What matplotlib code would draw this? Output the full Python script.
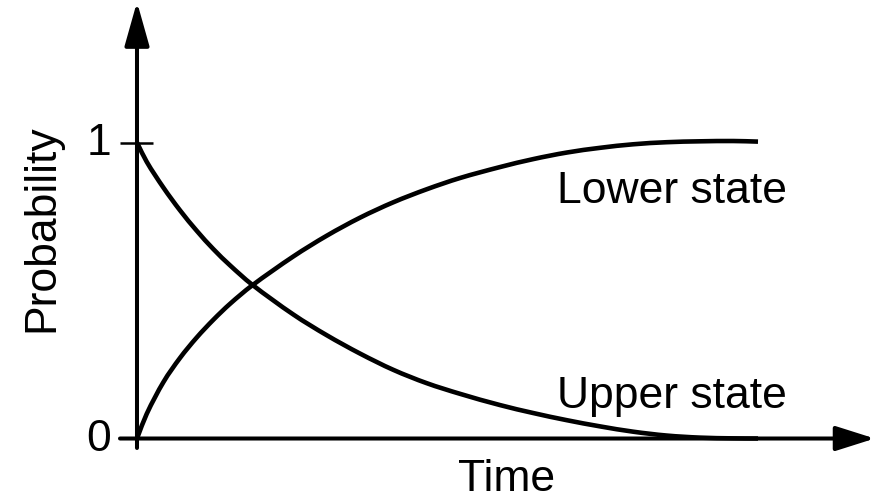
import matplotlib
matplotlib.use("Agg")
import matplotlib.pyplot as plt
from matplotlib.path import Path
from matplotlib.patches import PathPatch

plt.rcParams['font.family'] = ['Liberation Sans', 'DejaVu Sans']

# time (arbitrary units, 0 -> end of curves)
time = [0.0, 0.0156, 0.0424, 0.0692, 0.0961, 0.1229, 0.1498, 0.1847, 0.2517,
        0.3055, 0.3591, 0.4127, 0.4665, 0.5201, 0.5845, 0.6382, 0.6919, 0.7456,
        0.7992, 0.8530, 0.9066, 0.9603, 1.0]
upper_state = [1.0, 0.935, 0.848, 0.771, 0.702, 0.640, 0.585, 0.521, 0.419,
               0.349, 0.287, 0.232, 0.187, 0.151, 0.113, 0.086, 0.062, 0.041,
               0.023, 0.010, 0.003, 0.0005, 0.0]
lower_state = [0.0, 0.083, 0.190, 0.272, 0.341, 0.401, 0.455, 0.516, 0.615,
               0.685, 0.746, 0.798, 0.842, 0.880, 0.917, 0.944, 0.966, 0.982,
               0.994, 1.001, 1.004, 1.005, 1.003]
ytick_vals = [0, 1]
ytick_labels = ["0", "1"]


def smooth_path(x, y):
    # cubic bezier segments through the points (finite-difference tangents)
    n = len(x)
    slopes = []
    for i in range(n):
        a, b = max(i - 1, 0), min(i + 1, n - 1)
        slopes.append((y[b] - y[a]) / (x[b] - x[a]))
    verts = [(x[0], y[0])]
    codes = [Path.MOVETO]
    for i in range(n - 1):
        d = (x[i + 1] - x[i]) / 3
        verts += [(x[i] + d, y[i] + slopes[i] * d),
                  (x[i + 1] - d, y[i + 1] - slopes[i + 1] * d),
                  (x[i + 1], y[i + 1])]
        codes += [Path.CURVE4] * 3
    return Path(verts, codes)


fig = plt.figure(figsize=(8.76, 5.01), dpi=100)
ax = fig.add_axes([0, 0, 1, 1])
ax.set_xlim(-0.2206, 1.190)
ax.set_ylim(-0.2111, 1.4814)
ax.set_axis_off()

# axes with arrow heads
ax.annotate('', xy=(0, 1.475), xytext=(0, -0.032),
            arrowprops=dict(arrowstyle='-|>,head_length=27,head_width=7.6',
                            mutation_scale=1, lw=2.9, color='black',
                            shrinkA=0, shrinkB=0))
ax.annotate('', xy=(1.188, 0), xytext=(-0.0274, 0),
            arrowprops=dict(arrowstyle='-|>,head_length=24,head_width=7.6',
                            mutation_scale=1, lw=2.9, color='black',
                            shrinkA=0, shrinkB=0))
ax.plot([-0.0274, 0.0258], [1, 1], color='black', lw=1.8, solid_capstyle='butt')

for v, lab in zip(ytick_vals, ytick_labels):
    ax.text(-0.0419, v - 0.043, lab, fontsize=32, ha='right', va='baseline')

for series in (upper_state, lower_state):
    ax.add_patch(PathPatch(smooth_path(time, series), facecolor='none',
                           edgecolor='black', lw=3.3, capstyle='butt'))

ax.text(0.677, 0.7946, "Lower state", fontsize=32, ha='left', va='baseline')
ax.text(0.677, 0.102, "Upper state", fontsize=32, ha='left', va='baseline')
ax.text(0.5958, -0.178, "Time", fontsize=32, ha='center', va='baseline')
ax.text(-0.1348, 0.709, "Probability", fontsize=32, rotation=90,
        rotation_mode='anchor', ha='center', va='baseline')

fig.savefig("out.png", dpi=100)
